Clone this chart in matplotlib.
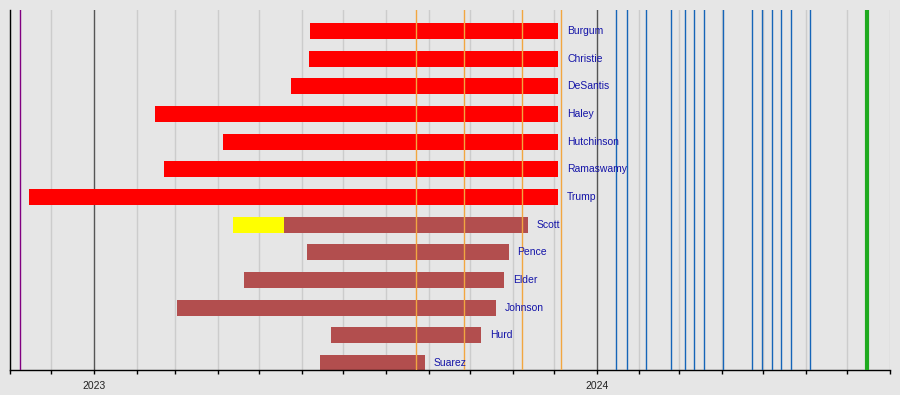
import matplotlib
matplotlib.use("Agg")
import matplotlib.pyplot as plt
import matplotlib.dates as mdates
from datetime import date

# ---- data ----
candidates = ["Burgum", "Christie", "DeSantis", "Haley", "Hutchinson", "Ramaswamy",
              "Trump", "Scott", "Pence", "Elder", "Johnson", "Hurd", "Suarez"]
starts = ["2023-06-07", "2023-06-06", "2023-05-24", "2023-02-14", "2023-04-05",
          "2023-02-21", "2022-11-15", "2023-05-19", "2023-06-05", "2023-04-20",
          "2023-03-02", "2023-06-22", "2023-06-14"]
ends = ["2023-12-04", "2023-12-04", "2023-12-04", "2023-12-04", "2023-12-04",
        "2023-12-04", "2023-12-04", "2023-11-12", "2023-10-29", "2023-10-26",
        "2023-10-20", "2023-10-09", "2023-08-29"]
status = ["active"] * 7 + ["withdrawn"] * 6
exploratory_name = "Scott"
exploratory_start = "2023-04-12"
exploratory_end = "2023-05-19"

midterm_election = "2022-11-08"
debates = ["2023-08-23", "2023-09-27", "2023-11-08", "2023-12-06"]
primaries = ["2024-01-15", "2024-01-23", "2024-02-06", "2024-02-24", "2024-03-05",
             "2024-03-12", "2024-03-19", "2024-04-02", "2024-04-23", "2024-04-30",
             "2024-05-07", "2024-05-14", "2024-05-21", "2024-06-04"]
convention = "2024-07-15"

axis_start = "2022-11-01"
axis_end = "2024-08-01"

# ---- styles ----
BG = "#e6e6e6"
colors = {"active": "#ff0000", "withdrawn": "#b24e4e"}
EXPLORE = "#ffff00"
TEXT = "#1414a8"

def d(s):
    return mdates.date2num(date.fromisoformat(s))

fig = plt.figure(figsize=(9, 3.95), dpi=100, facecolor=BG)
ax = fig.add_axes([10 / 900, 25 / 395, 880 / 900, 360 / 395], facecolor=BG)

ax.set_xlim(d(axis_start), d(axis_end))
ax.set_ylim(12.25, -0.76)

# gridlines
ax.xaxis.set_major_locator(mdates.YearLocator())
ax.xaxis.set_major_formatter(mdates.DateFormatter("%Y"))
ax.xaxis.set_minor_locator(mdates.MonthLocator())
ax.grid(True, which="minor", axis="x", color="#cccccc", linewidth=1.0, zorder=0)
ax.grid(True, which="major", axis="x", color="#555555", linewidth=1.0, zorder=0.5)
ax.set_axisbelow(True)
ax.yaxis.set_visible(False)

for sp in ["top", "right"]:
    ax.spines[sp].set_visible(False)
ax.spines["left"].set_color("black")
ax.spines["left"].set_linewidth(1.0)
ax.spines["bottom"].set_color("black")
ax.spines["bottom"].set_linewidth(1.0)
ax.tick_params(axis="x", which="both", direction="out", length=3, width=1, color="black")
ax.tick_params(axis="x", which="major", labelsize=7.5, pad=5, labelcolor="#222222")
for lab in ax.get_xticklabels():
    lab.set_fontfamily("Liberation Sans")

# event lines
ax.axvline(d(midterm_election), color="#800080", linewidth=1.0, zorder=3)
for dt in debates:
    ax.axvline(d(dt), color="#f2a640", linewidth=1.0, zorder=3)
for dt in primaries:
    ax.axvline(d(dt), color="#1565b8", linewidth=1.0, zorder=3)
ax.axvline(d(convention), color="#1eaa1e", linewidth=3.0, zorder=3)

# bars
bar_h = 0.58
for i, (name, s, e, st) in enumerate(zip(candidates, starts, ends, status)):
    ax.barh(i, d(e) - d(s), left=d(s), height=bar_h, color=colors[st],
            linewidth=0, zorder=2)
    if name == exploratory_name:
        ax.barh(i, d(exploratory_end) - d(exploratory_start), left=d(exploratory_start),
                height=bar_h, color=EXPLORE, linewidth=0, zorder=2.1)
    ax.annotate(name, xy=(d(e), i), xytext=(6.5, 0), textcoords="offset points",
                va="center", ha="left", fontsize=7.5, color=TEXT,
                family="Liberation Sans", zorder=5)

fig.savefig("out.png", dpi=100, facecolor=BG)
